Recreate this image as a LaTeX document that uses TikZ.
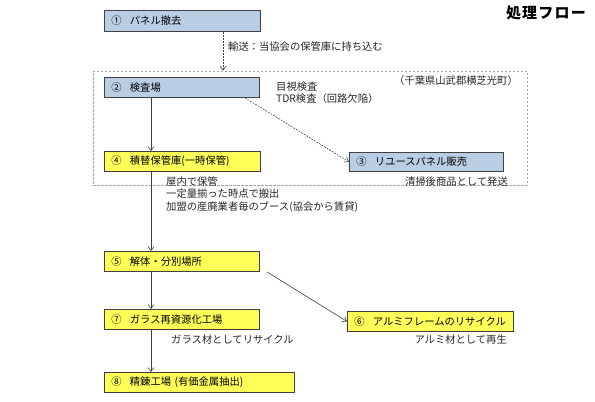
\documentclass[tikz,border=0pt]{standalone}
\usepackage{fontspec}
\setmainfont{Noto Sans CJK JP}
\usetikzlibrary{arrows.meta,calc,fit}
\definecolor{boxblue}{HTML}{B9CDE5}
\definecolor{boxyellow}{HTML}{FFFF5A}
\definecolor{edge}{HTML}{404040}
\begin{document}
\begin{tikzpicture}[x=1pt,y=-1pt,
 stepbox/.style={draw=edge, line width=0.8pt, anchor=north west, minimum height=20pt, inner xsep=7pt, inner ysep=0pt, align=left, font=\fontsize{10.3}{12}\selectfont},
 bluebox/.style={stepbox, fill=boxblue},
 yelbox/.style={stepbox, fill=boxyellow},
 lbl/.style={font=\fontsize{10.3}{12}\selectfont, inner sep=0pt, text=black!85},
 conn/.style={draw=edge, line width=0.6pt, -{Straight Barb[length=4pt,width=6pt]}},
 dconn/.style={conn, dash pattern=on 1.8pt off 1.2pt},
 framebox/.style={draw=gray!70, line width=0.7pt, dash pattern=on 2.5pt off 1.5pt, inner sep=0pt},
]
\useasboundingbox (0,0) rectangle (595,402);
\node[framebox, fit={(93,71) (527,185)}] (frame) {};

\node[bluebox, text width=142pt, minimum height=21pt] (b1) at (104,10) {①\hspace{0.8em}パネル撤去};
\node[bluebox, text width=141pt] (b2) at (104,77) {②\hspace{0.8em}検査場};
\node[yelbox, text width=142pt] (b4) at (104,151) {④\hspace{0.8em}積替保管庫(一時保管)};
\node[bluebox, text width=140pt, minimum height=19pt] (b3) at (349,152) {③\hspace{0.8em}リユースパネル販売};
\node[yelbox, text width=141pt] (b5) at (104,251) {⑤\hspace{0.8em}解体・分別場所};
\node[yelbox, text width=141pt] (b7) at (104,309) {⑦\hspace{0.8em}ガラス再資源化工場};
\node[yelbox, text width=152pt] (b6) at (347,311) {⑥\hspace{0.8em}アルミフレームのリサイクル};
\node[yelbox, text width=176pt] (b8) at (104,372) {⑧\hspace{0.8em}精錬工場 (有価金属抽出)};

\node[font=\fontsize{15}{17}\selectfont\bfseries\addfontfeature{LetterSpace=8}, anchor=east, inner sep=0pt] (title) at (586,13) {処理フロー};

\node[lbl, anchor=west] (t1) at (228,47) {輸送：当協会の保管庫に持ち込む};
\node[lbl, anchor=west] (t2) at (276,87) {目視検査};
\node[lbl, anchor=west] (t3) at (276,99) {TDR検査（回路欠陥）};
\node[lbl, anchor=east] (t4) at (518,81) {（千葉県山武郡横芝光町）};
\node[lbl, anchor=east] (t5) at (508,182) {清掃後商品として発送};
\node[lbl, anchor=west] (t6) at (166,182) {屋内で保管};
\node[lbl, anchor=west] (t7) at (166,194) {一定量揃った時点で搬出};
\node[lbl, anchor=west] (t8) at (166,207) {加盟の産廃業者毎のブース(協会から賃貸)};
\node[lbl, anchor=west] (t9) at (171,340) {ガラス材としてリサイクル};
\node[lbl, anchor=east] (t10) at (507,340) {アルミ材として再生};

\coordinate (tx) at (223,0);
\coordinate (cx) at (151,0);
\coordinate (dx) at (245,0);

\draw[dconn] (b1.south -| tx) -- (frame.north -| tx);
\draw[conn] (b2.south -| cx) -- (b4.north -| cx);
\draw[dconn] (b2.south -| dx) -- (b3.west);
\draw[conn] (b4.south -| cx) -- (b5.north -| cx);
\draw[conn] ($(b5.south east)+(7,0)$) -- (b6.west);
\draw[conn] (b5.south -| cx) -- (b7.north -| cx);
\draw[conn] (b7.south -| cx) -- (b8.north -| cx);
\end{tikzpicture}
\end{document}
